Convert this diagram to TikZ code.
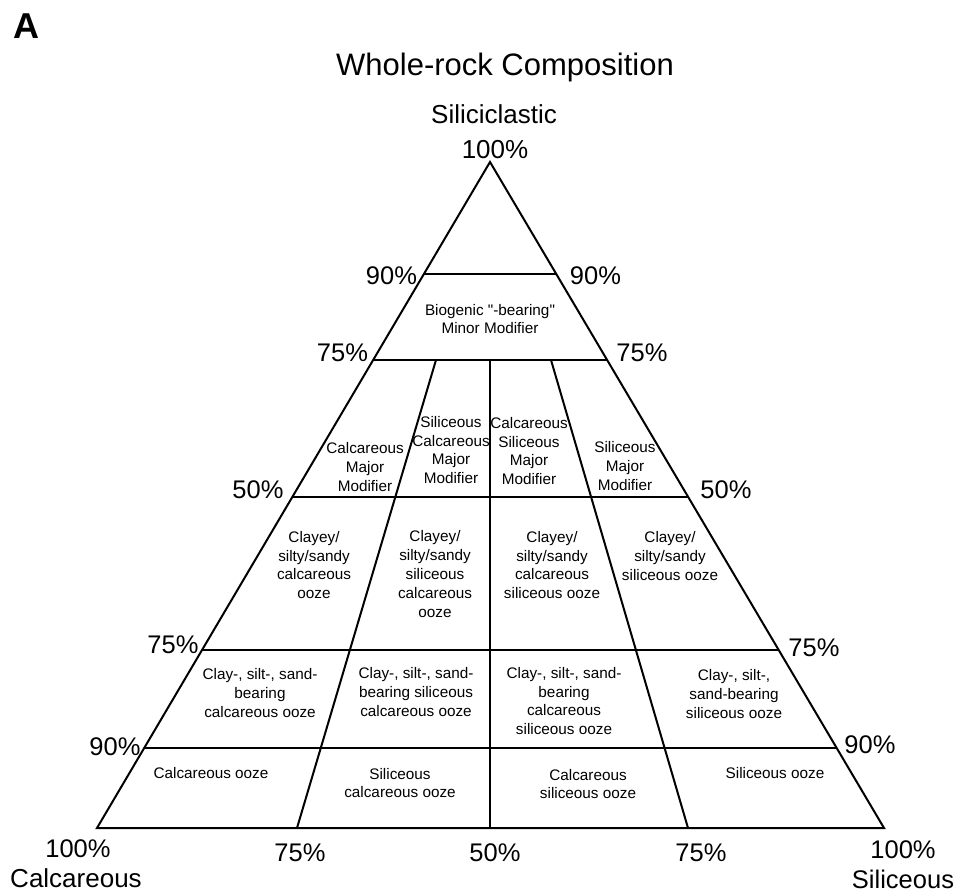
\documentclass[tikz,border=0pt]{standalone}
\usepackage{fontspec}
\setmainfont{Liberation Sans}[Ligatures=TeXOff]
\begin{document}
\begin{tikzpicture}[x=1pt,y=-1pt,
  edge/.style={line width=2pt, line join=miter, line cap=butt},
  cell/.style={align=center, inner sep=0pt, font=\fontsize{15.3}{18.8}\selectfont},
  pct/.style={inner sep=0pt, anchor=base, font=\fontsize{25.5}{30}\selectfont},
  axis/.style={inner sep=0pt, anchor=base, font=\fontsize{26}{30}\selectfont}]
\useasboundingbox (0,0) rectangle (961,894);
% vertices
\coordinate (T) at (490,162);
\coordinate (BL) at (97,828);
\coordinate (BR) at (884,828);
% horizontal cut points
\coordinate (L1) at (423.9,274); \coordinate (R1) at (556.3,274);
\coordinate (L2) at (373.2,360); \coordinate (R2) at (607.1,360);
\coordinate (L3) at (292.3,497); \coordinate (R3) at (688.2,497);
\coordinate (L4) at (202.0,650); \coordinate (R4) at (778.7,650);
\coordinate (L5) at (144.2,748); \coordinate (R5) at (836.7,748);
% dividers
\coordinate (DLt) at (436,360); \coordinate (DLb) at (297,828);
\coordinate (DCt) at (490,360); \coordinate (DCb) at (490,828);
\coordinate (DRt) at (551,360); \coordinate (DRb) at (688,828);
% outline and lines
\draw[edge] (T) -- (BL) -- (BR) -- cycle;
\draw[edge] (L1) -- (R1);
\draw[edge] (L2) -- (R2);
\draw[edge] (L3) -- (R3);
\draw[edge] (L4) -- (R4);
\draw[edge] (L5) -- (R5);
\draw[edge] (DLt) -- (DLb);
\draw[edge] (DCt) -- (DCb);
\draw[edge] (DRt) -- (DRb);
% titles
\node[inner sep=0pt, anchor=base, font=\fontsize{36}{40}\selectfont\bfseries] (panel) at (26,38) {A};
\node[inner sep=0pt, anchor=base, font=\fontsize{31}{36}\selectfont] (title) at (505,75) {Whole-rock Composition};
\node[axis] (silici) at (494,123) {Siliciclastic};
\node[axis] (p100t) at (495,158) {100\%};
% side percentages
\node[pct] (p90l) at (391.5,284) {90\%};
\node[pct] (p90r) at (595.5,284) {90\%};
\node[pct] (p75l) at (342.5,361) {75\%};
\node[pct] (p75r) at (642,361) {75\%};
\node[pct] (p50l) at (258,498) {50\%};
\node[pct] (p50r) at (726,498) {50\%};
\node[pct] (p75ll) at (173,653) {75\%};
\node[pct] (p75rr) at (814,656) {75\%};
\node[pct] (p90ll) at (115,755) {90\%};
\node[pct] (p90rr) at (870,753) {90\%};
% bottom percentages
\node[pct] (b100l) at (78,857) {100\%};
\node[pct] (b75l) at (300,861) {75\%};
\node[pct] (b50) at (495,861) {50\%};
\node[pct] (b75r) at (701,861) {75\%};
\node[pct] (b100r) at (903,858) {100\%};
\node[axis] (calc) at (76,887) {Calcareous};
\node[axis, font=\fontsize{25.5}{30}\selectfont] (sili) at (903,888) {Siliceous};
% cells
\node[cell] (c1) at (490,319) {Biogenic "-bearing"\\Minor Modifier};
\node[cell] (c2a) at (365,467) {Calcareous\\Major\\Modifier};
\node[cell] (c2b) at (451,450) {Siliceous\\Calcareous\\Major\\Modifier};
\node[cell] (c2c) at (529,451) {Calcareous\\Siliceous\\Major\\Modifier};
\node[cell] (c2d) at (625,466) {Siliceous\\Major\\Modifier};
\node[cell] (c3a) at (314,565) {Clayey/\\silty/sandy\\calcareous\\ooze};
\node[cell] (c3b) at (435,574) {Clayey/\\silty/sandy\\siliceous\\calcareous\\ooze};
\node[cell] (c3c) at (552,565) {Clayey/\\silty/sandy\\calcareous\\siliceous ooze};
\node[cell] (c3d) at (670,556) {Clayey/\\silty/sandy\\siliceous ooze};
\node[cell] (c4a) at (260,693) {Clay-, silt-, sand-\\bearing\\calcareous ooze};
\node[cell] (c4b) at (416,692) {Clay-, silt-, sand-\\bearing siliceous\\calcareous ooze};
\node[cell] (c4c) at (564,701) {Clay-, silt-, sand-\\bearing\\calcareous\\siliceous ooze};
\node[cell] (c4d) at (734,694) {Clay-, silt-,\\sand-bearing\\siliceous ooze};
\node[cell] (c5a) at (211,773) {Calcareous ooze};
\node[cell] (c5b) at (400,783) {Siliceous\\calcareous ooze};
\node[cell] (c5c) at (588,784) {Calcareous\\siliceous ooze};
\node[cell] (c5d) at (775,773) {Siliceous ooze};
\end{tikzpicture}
\end{document}
